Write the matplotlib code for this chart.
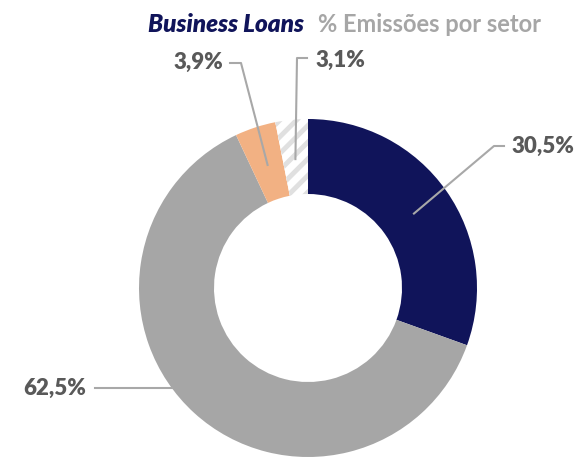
import numpy as np
import matplotlib.pyplot as plt

plt.rcParams['font.family'] = ['Lato', 'DejaVu Sans']
plt.rcParams['hatch.linewidth'] = 3.5

# Data
sectors = ["Setor A", "Setor B", "Setor C", "Outros"]
shares = [30.5, 62.5, 3.9, 3.1]
labels = ["30,5%", "62,5%", "3,9%", "3,1%"]
colors = ["#10145a", "#a6a6a6", "#f2b183", "white"]

W, H = 581, 457
cx, cy = 308, H - 288
r_out, r_in = 169, 94

fig = plt.figure(figsize=(W / 100, H / 100), dpi=100)
ax = fig.add_axes([0, 0, 1, 1])

wedges, _ = ax.pie(shares, colors=colors, startangle=90, counterclock=False,
                   center=(cx, cy), radius=r_out,
                   wedgeprops=dict(width=r_out - r_in, linewidth=0))
wedges[3].set_hatch("//")
wedges[3].set_edgecolor("#e0e0e0")

ax.set_xlim(0, W)
ax.set_ylim(0, H)
ax.set_aspect("equal")
ax.axis("off")

line_c = "#a8a8a8"
text_c = "#595959"
lab_kw = dict(color=text_c, fontsize=16, fontweight="heavy", va="center")
r_mid = (r_out + r_in) / 2 - 2

# anchor points at the middle of each wedge
anchors = []
for w in wedges:
    a = np.deg2rad((w.theta1 + w.theta2) / 2)
    anchors.append((cx + r_mid * np.cos(a), cy + r_mid * np.sin(a)))

# 30,5%
ax_, ay_ = anchors[0]
ax.plot([ax_, 494, 504], [ay_, H - 146, H - 146], color=line_c, lw=1.5)
ax.text(511, H - 146, labels[0], ha="left", **lab_kw)

# 62,5%
yy = -100
xx = cx - np.sqrt(r_out ** 2 - yy ** 2)
ax.plot([95, xx], [cy + yy, cy + yy], color=line_c, lw=1.5)
ax.text(86, cy + yy, labels[1], ha="right", **lab_kw)

# 3,9%
ax_, ay_ = anchors[2]
ax.plot([ax_, 241, 230], [ay_, H - 63, H - 63], color=line_c, lw=1.5)
ax.text(223, H - 62, labels[2], ha="right", **lab_kw)

# 3,1%
ax_, ay_ = anchors[3]
ax.plot([ax_, 297, 307], [ay_, H - 58, H - 58], color=line_c, lw=1.5)
ax.text(316, H - 60, labels[3], ha="left", **lab_kw)

# Title
ax.text(148, H - 25, "Business Loans", color="#10145a", fontsize=17.5,
        fontweight="heavy", fontstyle="italic", ha="left", va="center")
ax.text(318, H - 25, "% Emissões por setor", color="#a6a6a6", fontsize=17,
        fontweight="bold", ha="left", va="center")

fig.savefig("out.png", dpi=100)
